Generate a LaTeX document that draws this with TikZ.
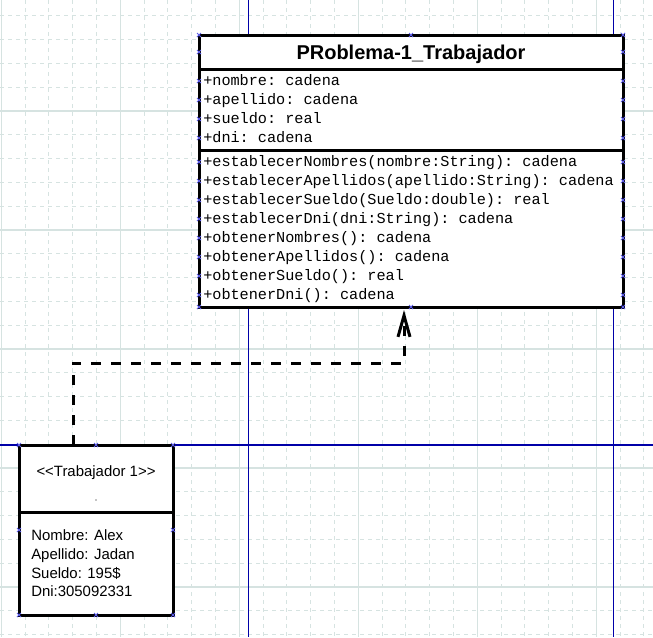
\documentclass[tikz,border=0pt]{standalone}
\usepackage{fontspec}
\setmainfont{Liberation Sans}
\setmonofont{Liberation Mono}
\usetikzlibrary{arrows.meta}
\definecolor{gridc}{HTML}{D6E3E1}
\definecolor{guide}{HTML}{0000A8}
\definecolor{handle}{HTML}{5A5AE6}
\tikzset{
  griddash/.style={gridc, line width=0.75pt, dash pattern=on 3pt off 3pt},
  gridsolid/.style={gridc, line width=0.9pt},
  guideline/.style={guide, line width=0.8pt},
  umlbox/.style={draw=black, fill=white, line width=2.25pt, inner sep=0pt, outer sep=0pt},
  sepline/.style={black, line width=2.25pt},
  attr/.style={anchor=base west, inner sep=0pt, font=\ttfamily\fontsize{11.4}{13}\selectfont},
  inst/.style={anchor=base west, inner sep=0pt, font=\fontsize{11.2}{13}\selectfont},
  dep/.style={black, line width=2.25pt, dash pattern=on 7.5pt off 7.5pt,
    -{Straight Barb[length=16pt, width=9pt]}},
  hdl/.pic={\draw[handle, line width=0.6pt] (-2,-2) -- (2,2) (-2,2) -- (2,-2);}
}
\begin{document}
\begin{tikzpicture}[x=0.75pt, y=-0.75pt]
\useasboundingbox (0,0) rectangle (653,637);
\fill[white] (0,0) rectangle (653,637);
% grid
\foreach \k in {0,...,27} {
  \draw[griddash] ({1.3+23.8*\k},0) -- ({1.3+23.8*\k},637);
}
\foreach \k in {1,...,27} {
  \draw[griddash] (0,{-8+23.8*\k}) -- (653,{-8+23.8*\k});
}
\foreach \k in {0,...,5} {
  \draw[gridsolid] ({1.3+119*\k},0) -- ({1.3+119*\k},637);
}
\foreach \k in {1,...,5} {
  \draw[gridsolid] (0,{-8+119*\k}) -- (653,{-8+119*\k});
}
% guide lines
\draw[guideline] (248.3,0) -- (248.3,637);
\draw[guideline] (613.3,0) -- (613.3,637);
\draw[guideline] (0,445) -- (653,445);

% class box
\node[umlbox, anchor=north west, minimum width=318pt, minimum height=204pt] (cls) at (199,35) {};
\draw[sepline] (199,69.5) -- (623,69.5);
\draw[sepline] (199,150) -- (623,150);
\node[anchor=base, inner sep=0pt, font=\bfseries\fontsize{15}{18}\selectfont] (title) at (411,59.3) {PRoblema-1\_Trabajador};
\node[attr] (a1) at (203,85.7) {+nombre: cadena};
\node[attr] (a2) at (203,104.7) {+apellido: cadena};
\node[attr] (a3) at (203,123.7) {+sueldo: real};
\node[attr] (a4) at (203,142.7) {+dni: cadena};
\node[attr] (m1) at (203,166.7) {+establecerNombres(nombre:String): cadena};
\node[attr] (m2) at (203,185.7) {+establecerApellidos(apellido:String): cadena};
\node[attr] (m3) at (203,204.7) {+establecerSueldo(Sueldo:double): real};
\node[attr] (m4) at (203,223.7) {+establecerDni(dni:String): cadena};
\node[attr] (m5) at (203,242.7) {+obtenerNombres(): cadena};
\node[attr] (m6) at (203,261.7) {+obtenerApellidos(): cadena};
\node[attr] (m7) at (203,280.7) {+obtenerSueldo(): real};
\node[attr] (m8) at (203,299.7) {+obtenerDni(): cadena};

% instance box
\node[umlbox, anchor=north west, minimum width=115.5pt, minimum height=127.5pt] (obj) at (19,445) {};
\draw[sepline] (19,512.7) -- (173,512.7);
\node[anchor=base, inner sep=0pt, font=\fontsize{11.2}{13}\selectfont] (otitle) at (96,476) {{<}{<}Trabajador 1{>}{>}};
\fill[black] (96,500) circle (0.7);
\node[inst] (o1) at (31,540.7) {Nombre: Alex};
\node[inst] (o2) at (31,559.3) {Apellido: Jadan};
\node[inst] (o3) at (31,578) {Sueldo: 195\$};
\node[inst] (o4) at (31,596.7) {Dni:305092331};

% handles
\foreach \yy in {35,52,81,100,119,138,162,181,200,219,238,257,276,295,307} {
  \pic at (199,\yy) {hdl};
  \pic at (623,\yy) {hdl};
}
\pic at (411,35) {hdl};
\pic at (411,307) {hdl};
\foreach \xx in {19,96,173} {
  \pic at (\xx,445) {hdl};
  \pic at (\xx,615) {hdl};
}
\pic at (19,530) {hdl};
\pic at (173,530) {hdl};

% dependency connector
\coordinate (arrEnd) at ([xshift=-5.25pt, yshift=-2.25pt]cls.south);
\draw[dep] ([xshift=40.5pt]obj.north west) |- ([yshift=-39.9pt]arrEnd) -- (arrEnd);
\end{tikzpicture}
\end{document}
